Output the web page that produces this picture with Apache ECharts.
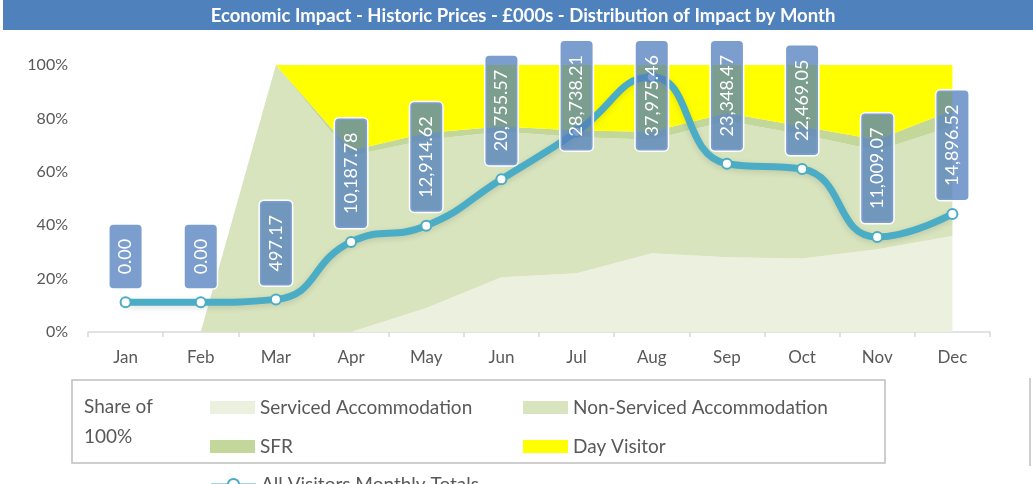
<!DOCTYPE html>
<html>
<head>
<meta charset="utf-8">
<script src="https://cdn.jsdelivr.net/npm/echarts@6/dist/echarts.min.js"></script>
<style>
  html, body { margin: 0; padding: 0; background: #fff; }
  #chart { width: 1033px; height: 484px; }
</style>
</head>
<body>
<div id="chart"></div>
<script>
// 月份
const months = ['Jan', 'Feb', 'Mar', 'Apr', 'May', 'Jun', 'Jul', 'Aug', 'Sep', 'Oct', 'Nov', 'Dec'];

// 各类别占比 (%)
const servicedShare = [0, 0, 0, 0, 9, 20.5, 22, 29.5, 28, 27.5, 31, 36];
const nonServicedShare = [0, 0, 100, 66, 63, 54.5, 51, 42.5, 51, 46.5, 37, 41];
const sfrShare = [0, 0, 0, 2, 2.5, 2, 2.5, 3, 3, 3, 4, 6];
const dayVisitorShare = [0, 0, 0, 32, 25.5, 23, 24.5, 25, 18, 23, 28, 17];

// 全部游客月度合计 (£000s)
const monthlyTotals = [0, 0, 497.17, 10187.78, 12914.62, 20755.57, 28738.21, 37975.46, 23348.47, 22469.05, 11009.07, 14896.52];

const yTicks = ['0%', '20%', '40%', '60%', '80%', '100%'];

const FONT = 'Lato';
const GREY = '#595959';
const LABEL_TOP = 42; // 标签不超出图表区域顶部
const LABEL_FONT = 18;
const LABEL_PAD = 14;
const LABEL_DIST = 8;
const SYMBOL = 10;

function fmt(v) {
  const parts = v.toFixed(2).split('.');
  parts[0] = parts[0].replace(/\B(?=(\d{3})+(?!\d))/g, ',');
  return parts.join('.');
}

function areaSeries(name, data, color) {
  return {
    name: name,
    type: 'line',
    stack: 'share',
    data: data,
    symbol: 'none',
    lineStyle: { width: 0 },
    areaStyle: { color: color, opacity: 1 },
    itemStyle: { color: color },
    z: 1
  };
}

function legendAt(name, left, top, icon) {
  return {
    data: [name],
    left: left,
    top: top,
    itemWidth: 45,
    itemHeight: icon === 'line' ? 14 : 13,
    itemGap: 4,
    icon: icon === 'line' ? undefined : 'rect',
    textStyle: { fontFamily: FONT, fontSize: 19, color: GREY },
    selectedMode: false
  };
}

const chart = echarts.init(document.getElementById('chart'));

chart.setOption({
  animation: false,
  textStyle: { fontFamily: FONT },
  grid: { left: 88, right: 43, top: 65, bottom: 152 },
  xAxis: {
    type: 'category',
    data: months,
    boundaryGap: true,
    axisLine: { lineStyle: { color: '#d9d9d9', width: 1.5 } },
    axisTick: { show: true, length: 5, lineStyle: { color: '#d9d9d9', width: 1.5 } },
    axisLabel: { color: GREY, fontSize: 17, margin: 17, fontFamily: FONT }
  },
  yAxis: [
    {
      type: 'value',
      min: 0,
      max: 100,
      interval: 20,
      axisLine: { show: false },
      axisTick: { show: false },
      splitLine: { show: false },
      axisLabel: {
        color: GREY,
        fontSize: 16,
        margin: 20,
        fontFamily: FONT,
        formatter: function (v) { return yTicks[Math.round(v / 20)]; }
      }
    },
    {
      type: 'value',
      min: -5000,
      max: 40000,
      show: false
    }
  ],
  legend: [
    legendAt('Serviced Accommodation', 205, 393),
    legendAt('Non-Serviced Accommodation', 518, 393),
    legendAt('SFR', 205, 432),
    legendAt('Day Visitor', 518, 432),
    legendAt('All Visitors Monthly Totals', 205, 470, 'line')
  ],
  graphic: [
    {
      type: 'rect',
      shape: { x: 3, y: 0, width: 1030, height: 30 },
      style: { fill: '#4f81bd' },
      z: 0
    },
    {
      type: 'text',
      x: 523,
      y: 16,
      style: {
        text: 'Economic Impact - Historic Prices - £000s - Distribution of Impact by Month',
        fill: '#fff',
        font: 'bold 18.5px ' + FONT,
        align: 'center',
        verticalAlign: 'middle'
      },
      z: 1
    },
    {
      type: 'rect',
      shape: { x: 72, y: 380, width: 813, height: 83 },
      style: { fill: 'none', stroke: '#bfbfbf', lineWidth: 1.5 },
      z: 0
    },
    {
      type: 'text',
      x: 84,
      y: 407,
      style: { text: 'Share of', fill: GREY, font: '19px ' + FONT, verticalAlign: 'middle' }
    },
    {
      type: 'text',
      x: 84,
      y: 437,
      style: { text: '100%', fill: GREY, font: '19px ' + FONT, verticalAlign: 'middle' }
    },
    {
      type: 'line',
      shape: { x1: 1030, y1: 378, x2: 1030, y2: 466 },
      style: { stroke: '#bfbfbf', lineWidth: 1.5 }
    }
  ],
  series: [
    areaSeries('Serviced Accommodation', servicedShare, '#ebf1de'),
    areaSeries('Non-Serviced Accommodation', nonServicedShare, '#d7e4bd'),
    areaSeries('SFR', sfrShare, '#c4d79b'),
    areaSeries('Day Visitor', dayVisitorShare, '#ffff00'),
    {
      name: 'All Visitors Monthly Totals',
      type: 'line',
      yAxisIndex: 1,
      data: monthlyTotals,
      smooth: 0.5,
      symbol: 'circle',
      symbolSize: SYMBOL,
      z: 5,
      lineStyle: {
        color: '#4bacc6',
        width: 7,
        shadowColor: 'rgba(0,0,0,0.12)',
        shadowBlur: 6,
        shadowOffsetY: 2
      },
      itemStyle: { color: '#ffffff', borderColor: '#4bacc6', borderWidth: 2 },
      label: {
        show: true,
        position: 'top',
        distance: LABEL_DIST,
        rotate: 90,
        align: 'left',
        verticalAlign: 'middle',
        color: '#ffffff',
        fontSize: LABEL_FONT,
        lineHeight: 20,
        fontFamily: FONT,
        backgroundColor: 'rgba(80,125,190,0.75)',
        borderColor: '#ffffff',
        borderWidth: 1.5,
        borderRadius: 4,
        padding: [6, LABEL_PAD],
        formatter: function (p) { return fmt(p.value); }
      }
    }
  ]
});

// 靠近顶部的标签下移，保持在图表区域内（offset 在旋转后的坐标系中）
const ctx = document.createElement('canvas').getContext('2d');
ctx.font = LABEL_FONT + 'px ' + FONT;
const lineData = monthlyTotals.map(function (v) {
  const py = chart.convertToPixel({ yAxisIndex: 1 }, v);
  const boxLen = ctx.measureText(fmt(v)).width + LABEL_PAD * 2;
  const top = py - SYMBOL / 2 - LABEL_DIST - boxLen;
  const shift = top < LABEL_TOP ? LABEL_TOP - top : 0;
  return shift ? { value: v, label: { offset: [-shift, 0] } } : v;
});
chart.setOption({ series: [{}, {}, {}, {}, { data: lineData }] });
</script>
</body>
</html>
